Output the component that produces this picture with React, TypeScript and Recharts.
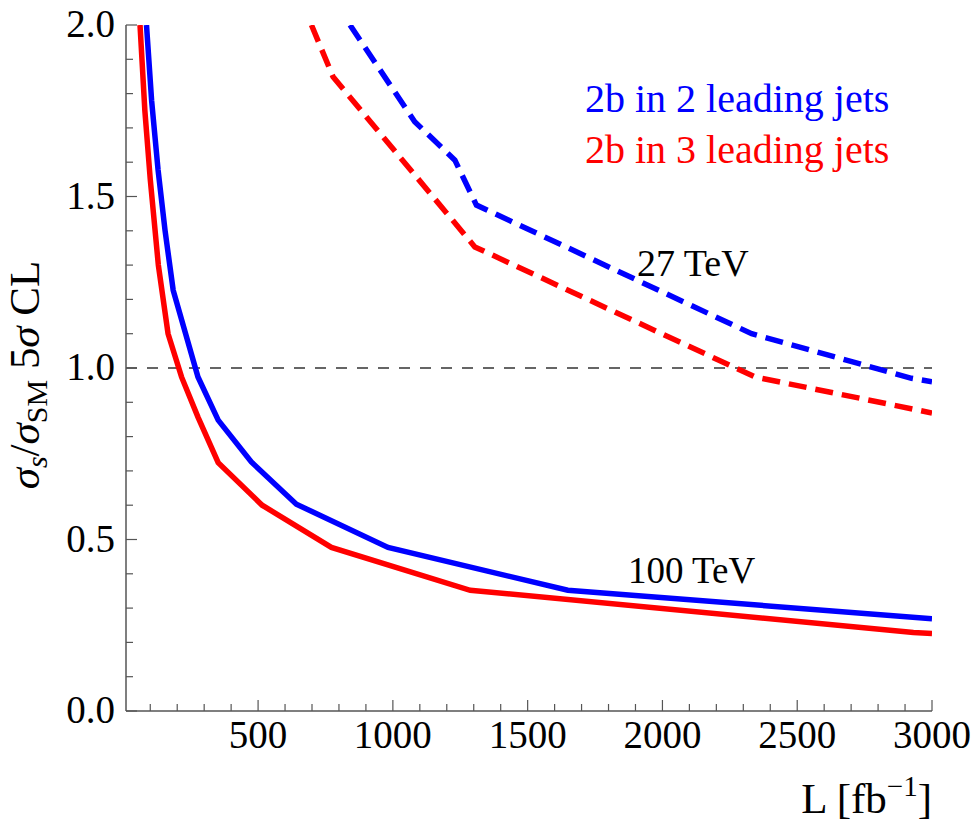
import { LineChart, Line, XAxis, YAxis, ReferenceLine } from 'recharts';

// 100 TeV, solid
const blue100L = [86, 105, 129, 155, 185, 277, 352, 475, 642, 982, 1649, 3000];
const blue100R = [2.0, 1.78, 1.577, 1.4, 1.227, 0.974, 0.848, 0.726, 0.603, 0.477, 0.352, 0.269];
const red100L = [62, 80, 100, 130, 166, 216, 277, 352, 515, 772, 1287, 2931, 3000];
const red100R = [2.0, 1.75, 1.55, 1.3, 1.1, 0.974, 0.857, 0.724, 0.6, 0.477, 0.352, 0.229, 0.226];

// 27 TeV, dashed
const blue27L = [841, 1081, 1230, 1310, 2331, 2924, 3000];
const blue27R = [2.0, 1.718, 1.606, 1.475, 1.1, 0.97, 0.96];
const red27L = [698, 778, 1304, 2343, 3000];
const red27R = [2.0, 1.849, 1.353, 0.974, 0.869];

const xTicks = Array.from({ length: 30 }, (_, i) => (i + 1) * 100);
const yTicks = [0, 0.1, 0.2, 0.3, 0.4, 0.5, 0.6, 0.7, 0.8, 0.9, 1.0, 1.1, 1.2, 1.3, 1.4, 1.5, 1.6, 1.7, 1.8, 1.9, 2.0];

const zip = (xs: number[], ys: number[]) => xs.map((L, i) => ({ L, r: ys[i] }));

const FONT = "'Liberation Serif', 'DejaVu Serif', serif";
const FRAME = '#555';
const BLUE = '#0000ff';
const RED = '#ff0000';

const isMajorX = (v: number) => v % 500 === 0;
const isMajorY = (v: number) => Math.abs(v * 2 - Math.round(v * 2)) < 1e-6;

const BottomTick = ({ x, y, payload }: any) => {
  const major = isMajorX(payload.value);
  return (
    <g>
      <line x1={x} y1={y} x2={x} y2={y - (major ? 11 : 7)} stroke={FRAME} strokeWidth={1.2} />
      {major && (
        <text x={x} y={y + 37} textAnchor="middle" fontFamily={FONT} fontSize={39} fill="#000">
          {payload.value}
        </text>
      )}
    </g>
  );
};

const TopTick = ({ x, y, payload }: any) => {
  const major = isMajorX(payload.value);
  return <line x1={x} y1={y} x2={x} y2={y + (major ? 11 : 7)} stroke={FRAME} strokeWidth={1.2} />;
};

const LeftTick = ({ x, y, payload }: any) => {
  const major = isMajorY(payload.value);
  return (
    <g>
      <line x1={x} y1={y} x2={x + (major ? 11 : 7)} y2={y} stroke={FRAME} strokeWidth={1.2} />
      {major && (
        <text x={x - 11} y={y + 12} textAnchor="end" fontFamily={FONT} fontSize={39} fill="#000">
          {payload.value.toFixed(1)}
        </text>
      )}
    </g>
  );
};

const RightTick = ({ x, y, payload }: any) => {
  const major = isMajorY(payload.value);
  return <line x1={x} y1={y} x2={x - (major ? 11 : 7)} y2={y} stroke={FRAME} strokeWidth={1.2} />;
};

export default function App() {
  return (
    <div style={{ position: 'absolute', left: 0, top: 0, background: '#fff' }}>
      <LineChart width={977} height={828} margin={{ top: 25, right: 45, left: 0, bottom: 0 }}>
        <XAxis
          xAxisId="b"
          type="number"
          dataKey="L"
          domain={[10, 3000]}
          allowDataOverflow
          ticks={xTicks}
          interval={0}
          height={117}
          tickSize={0}
          tickMargin={0}
          tick={BottomTick}
          axisLine={{ stroke: FRAME, strokeWidth: 1.5 }}
        />
        <XAxis
          xAxisId="t"
          orientation="top"
          type="number"
          dataKey="L"
          domain={[10, 3000]}
          allowDataOverflow
          ticks={xTicks}
          interval={0}
          height={0}
          tickSize={0}
          tickMargin={0}
          tick={TopTick}
          axisLine={{ stroke: FRAME, strokeWidth: 1.5 }}
        />
        <YAxis
          yAxisId="l"
          type="number"
          domain={[0, 2]}
          allowDataOverflow
          ticks={yTicks}
          interval={0}
          width={126}
          tickSize={0}
          tickMargin={0}
          tick={LeftTick}
          axisLine={{ stroke: FRAME, strokeWidth: 1.5 }}
        />
        <YAxis
          yAxisId="r"
          orientation="right"
          type="number"
          domain={[0, 2]}
          allowDataOverflow
          ticks={yTicks}
          interval={0}
          width={0}
          tickSize={0}
          tickMargin={0}
          tick={RightTick}
          axisLine={{ stroke: FRAME, strokeWidth: 1.5 }}
        />
        <ReferenceLine xAxisId="b" yAxisId="l" y={1} stroke="#333" strokeWidth={1.4} strokeDasharray="11 10" />
        <Line xAxisId="b" yAxisId="l" data={zip(red100L, red100R)} dataKey="r" stroke={RED} strokeWidth={5.5} dot={false} isAnimationActive={false} />
        <Line xAxisId="b" yAxisId="l" data={zip(blue100L, blue100R)} dataKey="r" stroke={BLUE} strokeWidth={5.5} dot={false} isAnimationActive={false} />
        <Line xAxisId="b" yAxisId="l" data={zip(red27L, red27R)} dataKey="r" stroke={RED} strokeWidth={5.5} strokeDasharray="18 9" dot={false} isAnimationActive={false} />
        <Line xAxisId="b" yAxisId="l" data={zip(blue27L, blue27R)} dataKey="r" stroke={BLUE} strokeWidth={5.5} strokeDasharray="18 9" dot={false} isAnimationActive={false} />

        <text x={585} y={112} fontFamily={FONT} fontSize={40} fill={BLUE}>2b in 2 leading jets</text>
        <text x={585} y={163} fontFamily={FONT} fontSize={40} fill={RED}>2b in 3 leading jets</text>
        <text x={637} y={276} fontFamily={FONT} fontSize={38} fill="#000">27 TeV</text>
        <text x={628} y={583} fontFamily={FONT} fontSize={37} fill="#000">100 TeV</text>
        <text x={932} y={813} textAnchor="end" fontFamily={FONT} fontSize={43} fill="#000">
          L [fb<tspan dy={-17} fontSize={29}>−1</tspan><tspan dy={17}>]</tspan>
        </text>
        <text transform="translate(39,375) rotate(-90)" textAnchor="middle" fontFamily={FONT} fontSize={43} fill="#000">
          <tspan fontStyle="italic">σ</tspan>
          <tspan fontStyle="italic" fontSize={30} dy={8}>s</tspan>
          <tspan dy={-8}>/</tspan>
          <tspan fontStyle="italic">σ</tspan>
          <tspan fontSize={30} dy={8}>SM</tspan>
          <tspan dy={-8}> 5</tspan>
          <tspan fontStyle="italic">σ</tspan>
          <tspan> CL</tspan>
        </text>
      </LineChart>
    </div>
  );
}
